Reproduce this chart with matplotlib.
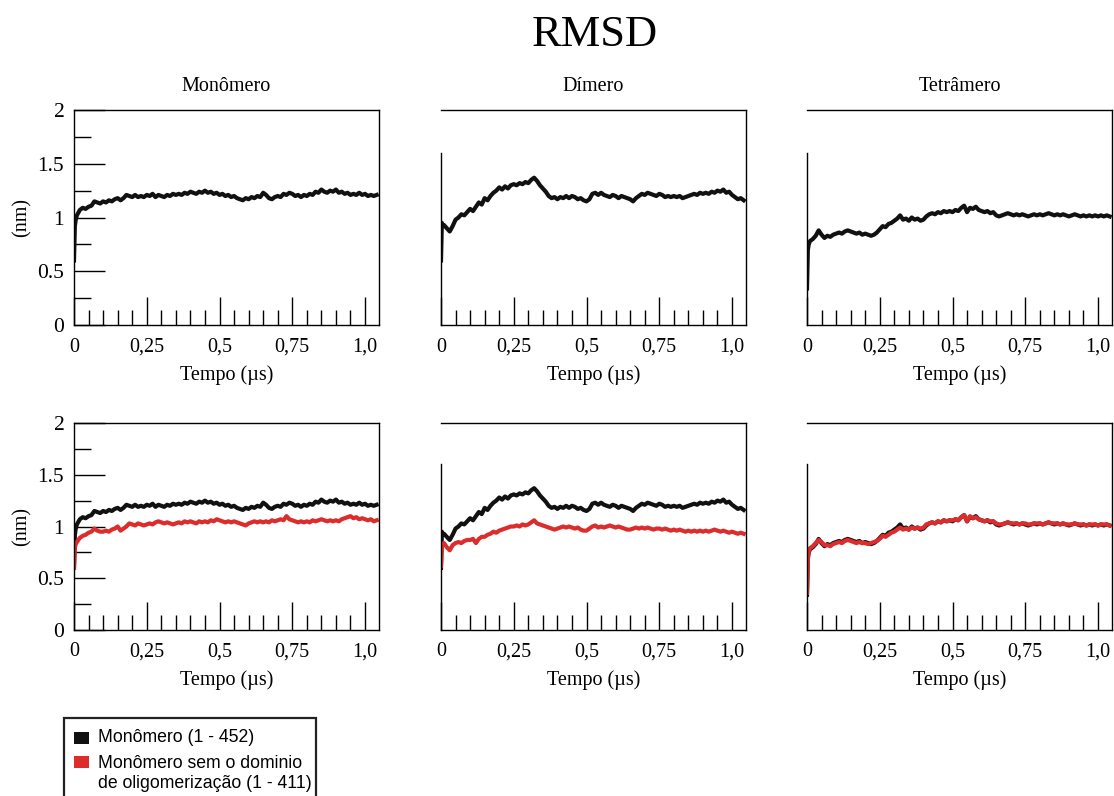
import numpy as np
import matplotlib
matplotlib.use("Agg")
import matplotlib.pyplot as plt
from matplotlib.ticker import FixedLocator, MultipleLocator
from matplotlib.patches import Rectangle

plt.rcParams["font.family"] = ["Liberation Serif", "DejaVu Serif"]

# time (us): three early samples, then every 0.01 up to 1.04
tempo = np.concatenate([[0.0, 0.003, 0.006], np.arange(1, 105) / 100])

# RMSD (nm)
mono_full = [0.60, 0.92, 0.98,
    1.02, 1.07, 1.09, 1.08, 1.10, 1.11, 1.15, 1.14, 1.13, 1.15,
    1.14, 1.16, 1.15, 1.17, 1.18, 1.16, 1.18, 1.21, 1.20, 1.19,
    1.21, 1.19, 1.20, 1.19, 1.21, 1.20, 1.22, 1.19, 1.21, 1.20,
    1.19, 1.21, 1.20, 1.22, 1.21, 1.22, 1.21, 1.23, 1.22, 1.24,
    1.23, 1.22, 1.24, 1.23, 1.25, 1.23, 1.24, 1.22, 1.23, 1.21,
    1.22, 1.20, 1.21, 1.19, 1.20, 1.18, 1.17, 1.16, 1.18, 1.17,
    1.19, 1.18, 1.20, 1.19, 1.23, 1.21, 1.18, 1.17, 1.19, 1.20,
    1.19, 1.22, 1.21, 1.23, 1.22, 1.20, 1.21, 1.19, 1.21, 1.20,
    1.22, 1.21, 1.24, 1.23, 1.26, 1.24, 1.23, 1.25, 1.24, 1.26,
    1.23, 1.24, 1.22, 1.23, 1.21, 1.22, 1.21, 1.23, 1.21, 1.22,
    1.20, 1.21, 1.20, 1.21]

mono_sem = [0.60, 0.80, 0.83,
    0.85, 0.89, 0.91, 0.92, 0.94, 0.95, 0.98, 0.96, 0.95, 0.95,
    0.96, 0.95, 0.97, 0.98, 1.00, 0.96, 0.98, 1.00, 1.03, 1.02,
    1.01, 1.03, 1.02, 1.01, 1.02, 1.03, 1.02, 1.04, 1.05, 1.04,
    1.03, 1.04, 1.03, 1.02, 1.03, 1.04, 1.03, 1.05, 1.04, 1.05,
    1.04, 1.03, 1.05, 1.04, 1.05, 1.04, 1.06, 1.05, 1.07, 1.06,
    1.05, 1.04, 1.05, 1.04, 1.05, 1.04, 1.03, 1.02, 1.01, 1.03,
    1.04, 1.05, 1.04, 1.05, 1.04, 1.05, 1.04, 1.06, 1.05, 1.06,
    1.07, 1.06, 1.10, 1.07, 1.06, 1.05, 1.04, 1.05, 1.04, 1.05,
    1.04, 1.06, 1.05, 1.06, 1.07, 1.06, 1.05, 1.06, 1.05, 1.06,
    1.05, 1.07, 1.08, 1.09, 1.10, 1.08, 1.09, 1.07, 1.08, 1.07,
    1.06, 1.07, 1.05, 1.06]

dimero_full = [0.60, 0.95, 0.92,
    0.93, 0.90, 0.87, 0.92, 0.98, 1.00, 1.03, 1.02, 1.05, 1.08,
    1.06, 1.10, 1.14, 1.12, 1.18, 1.16, 1.20, 1.23, 1.25, 1.28,
    1.26, 1.29, 1.27, 1.30, 1.31, 1.30, 1.32, 1.31, 1.33, 1.32,
    1.35, 1.37, 1.34, 1.30, 1.27, 1.24, 1.20, 1.18, 1.19, 1.17,
    1.19, 1.18, 1.20, 1.18, 1.20, 1.19, 1.17, 1.18, 1.16, 1.15,
    1.17, 1.22, 1.23, 1.21, 1.23, 1.21, 1.20, 1.19, 1.21, 1.20,
    1.18, 1.20, 1.19, 1.18, 1.17, 1.15, 1.18, 1.20, 1.22, 1.21,
    1.23, 1.22, 1.21, 1.20, 1.22, 1.21, 1.19, 1.20, 1.19, 1.20,
    1.19, 1.20, 1.18, 1.19, 1.20, 1.21, 1.22, 1.21, 1.23, 1.22,
    1.23, 1.22, 1.24, 1.23, 1.25, 1.24, 1.26, 1.23, 1.24, 1.21,
    1.19, 1.17, 1.18, 1.16]

dimero_sem = [0.62, 0.80, 0.83,
    0.84, 0.80, 0.77, 0.82, 0.84, 0.85, 0.84, 0.86, 0.87, 0.87,
    0.88, 0.84, 0.88, 0.90, 0.90, 0.92, 0.93, 0.95, 0.94, 0.96,
    0.97, 0.98, 0.99, 1.00, 1.00, 1.01, 1.00, 1.02, 1.01, 1.02,
    1.04, 1.06, 1.03, 1.02, 1.01, 1.00, 0.99, 0.98, 0.97, 0.98,
    0.99, 1.00, 0.99, 1.00, 0.99, 0.98, 0.99, 0.97, 0.96, 0.96,
    0.98, 1.00, 1.01, 0.99, 1.00, 0.99, 1.00, 1.01, 1.00, 0.99,
    1.00, 0.99, 0.98, 0.97, 0.97, 0.98, 0.99, 0.98, 0.99, 0.98,
    0.99, 0.98, 0.97, 0.98, 0.98, 0.97, 0.98, 0.97, 0.96, 0.97,
    0.96, 0.97, 0.96, 0.95, 0.96, 0.95, 0.96, 0.95, 0.96, 0.95,
    0.96, 0.95, 0.96, 0.97, 0.96, 0.95, 0.96, 0.95, 0.94, 0.95,
    0.94, 0.93, 0.94, 0.93]

tetra_full = [0.34, 0.70, 0.75,
    0.78, 0.80, 0.83, 0.88, 0.84, 0.81, 0.83, 0.82, 0.84, 0.85,
    0.86, 0.85, 0.87, 0.88, 0.87, 0.86, 0.85, 0.86, 0.84, 0.85,
    0.84, 0.83, 0.84, 0.86, 0.89, 0.92, 0.91, 0.94, 0.95, 0.97,
    0.99, 1.02, 0.98, 0.99, 0.97, 1.00, 0.98, 0.99, 0.97, 0.98,
    1.01, 1.03, 1.04, 1.03, 1.05, 1.04, 1.06, 1.05, 1.06, 1.05,
    1.07, 1.06, 1.09, 1.11, 1.05, 1.09, 1.08, 1.10, 1.07, 1.06,
    1.05, 1.06, 1.04, 1.05, 1.02, 1.01, 1.02, 1.03, 1.04, 1.03,
    1.02, 1.03, 1.02, 1.03, 1.02, 1.01, 1.02, 1.03, 1.02, 1.03,
    1.02, 1.03, 1.04, 1.03, 1.02, 1.03, 1.02, 1.03, 1.02, 1.01,
    1.02, 1.03, 1.02, 1.01, 1.02, 1.01, 1.02, 1.01, 1.02, 1.01,
    1.02, 1.01, 1.02, 1.01]

tetra_sem = [0.36, 0.68, 0.76,
    0.79, 0.81, 0.84, 0.87, 0.85, 0.82, 0.82, 0.81, 0.83, 0.84,
    0.85, 0.84, 0.86, 0.87, 0.86, 0.85, 0.84, 0.85, 0.84, 0.84,
    0.83, 0.84, 0.85, 0.86, 0.88, 0.91, 0.90, 0.92, 0.94, 0.95,
    0.97, 0.99, 0.97, 0.98, 0.97, 0.99, 0.98, 0.99, 0.98, 0.99,
    1.02, 1.03, 1.04, 1.03, 1.05, 1.04, 1.06, 1.05, 1.06, 1.06,
    1.07, 1.06, 1.09, 1.11, 1.05, 1.10, 1.08, 1.09, 1.07, 1.06,
    1.05, 1.06, 1.05, 1.05, 1.03, 1.02, 1.02, 1.03, 1.04, 1.03,
    1.03, 1.03, 1.02, 1.03, 1.03, 1.02, 1.02, 1.03, 1.03, 1.03,
    1.02, 1.03, 1.04, 1.03, 1.03, 1.03, 1.02, 1.03, 1.02, 1.02,
    1.02, 1.03, 1.02, 1.02, 1.02, 1.01, 1.02, 1.02, 1.02, 1.01,
    1.02, 1.02, 1.02, 1.01]

titulos = ["Monômero", "Dímero", "Tetrâmero"]
xticks = [0, 0.25, 0.5, 0.75, 1.0]
xlabels = ["0", "0,25", "0,5", "0,75", "1,0"]
yticks = [0, 0.5, 1, 1.5, 2]
ylabels = ["0", "0.5", "1", "1.5", "2"]
legenda = ["Monômero (1 - 452)", "Monômero sem o dominio\nde oligomerização (1 - 411)"]

PRETO = "#111111"
VERMELHO = "#dd2c2c"
W, H = 1114, 796

top_row = [mono_full, dimero_full, tetra_full]
bottom_row = [(mono_full, mono_sem), (dimero_full, dimero_sem), (tetra_full, tetra_sem)]

fig = plt.figure(figsize=(W / 100, H / 100), dpi=100)

lefts = [74, 441, 807]
width = 305
rows = [(110, 325), (423, 630)]

def style_axes(ax, col):
    ax.set_xlim(0, 1.048)
    ax.set_ylim(0, 2)
    ax.xaxis.set_major_locator(FixedLocator(xticks))
    ax.set_xticklabels(xlabels)
    ax.xaxis.set_minor_locator(MultipleLocator(0.05))
    ax.tick_params(axis="x", which="major", direction="in", length=20, width=1,
                   labelsize=14.5, pad=9)
    ax.tick_params(axis="x", which="minor", direction="in", length=11, width=1)
    if col == 0:
        ax.yaxis.set_major_locator(FixedLocator(yticks))
        ax.set_yticklabels(ylabels)
        ax.yaxis.set_minor_locator(MultipleLocator(0.25))
        ax.tick_params(axis="y", which="major", direction="in", length=22, width=1,
                       labelsize=15.5, pad=7)
        ax.tick_params(axis="y", which="minor", direction="in", length=12, width=1)
        ax.set_ylabel("(nm)", fontsize=14.5, labelpad=4)
    else:
        ax.set_yticks([])
        ax.spines["left"].set_bounds(0, 1.6)
    for s in ax.spines.values():
        s.set_linewidth(1.0)
    ax.set_xlabel("Tempo (µs)", fontsize=14.5, labelpad=6)

for r, (top, bot) in enumerate(rows):
    for c in range(3):
        ax = fig.add_axes([lefts[c] / W, 1 - bot / H, width / W, (bot - top) / H])
        style_axes(ax, c)
        if r == 0:
            ax.plot(tempo, top_row[c], color=PRETO, lw=3.0)
            ax.set_title(titulos[c], fontsize=14.5, pad=14)
        else:
            full, sem = bottom_row[c]
            ax.plot(tempo, full, color=PRETO, lw=3.0)
            ax.plot(tempo, sem, color=VERMELHO, lw=3.0)

fig.text(0.534, 1 - 35 / H, "RMSD", fontsize=32, ha="center", va="center")

# legend box, drawn by hand; it runs off the bottom edge as in the original
fig.patches.append(Rectangle((64 / W, -0.05), (316 - 64) / W, 0.05 + 1 - 718 / H,
                             transform=fig.transFigure, facecolor="white",
                             edgecolor="#222222", lw=1.6))
for color, y_sq in [(PRETO, 738), (VERMELHO, 762)]:
    fig.patches.append(Rectangle((74 / W, 1 - (y_sq + 6) / H), 15 / W, 12 / H,
                                 transform=fig.transFigure, facecolor=color,
                                 edgecolor="none"))
fig.text(98 / W, 1 - 737 / H, legenda[0], family="Liberation Sans", fontsize=12.7,
         ha="left", va="center")
fig.text(98 / W, 1 - 755 / H, legenda[1], family="Liberation Sans", fontsize=12.7,
         ha="left", va="top", linespacing=1.2)

fig.savefig("out.png", dpi=100)
